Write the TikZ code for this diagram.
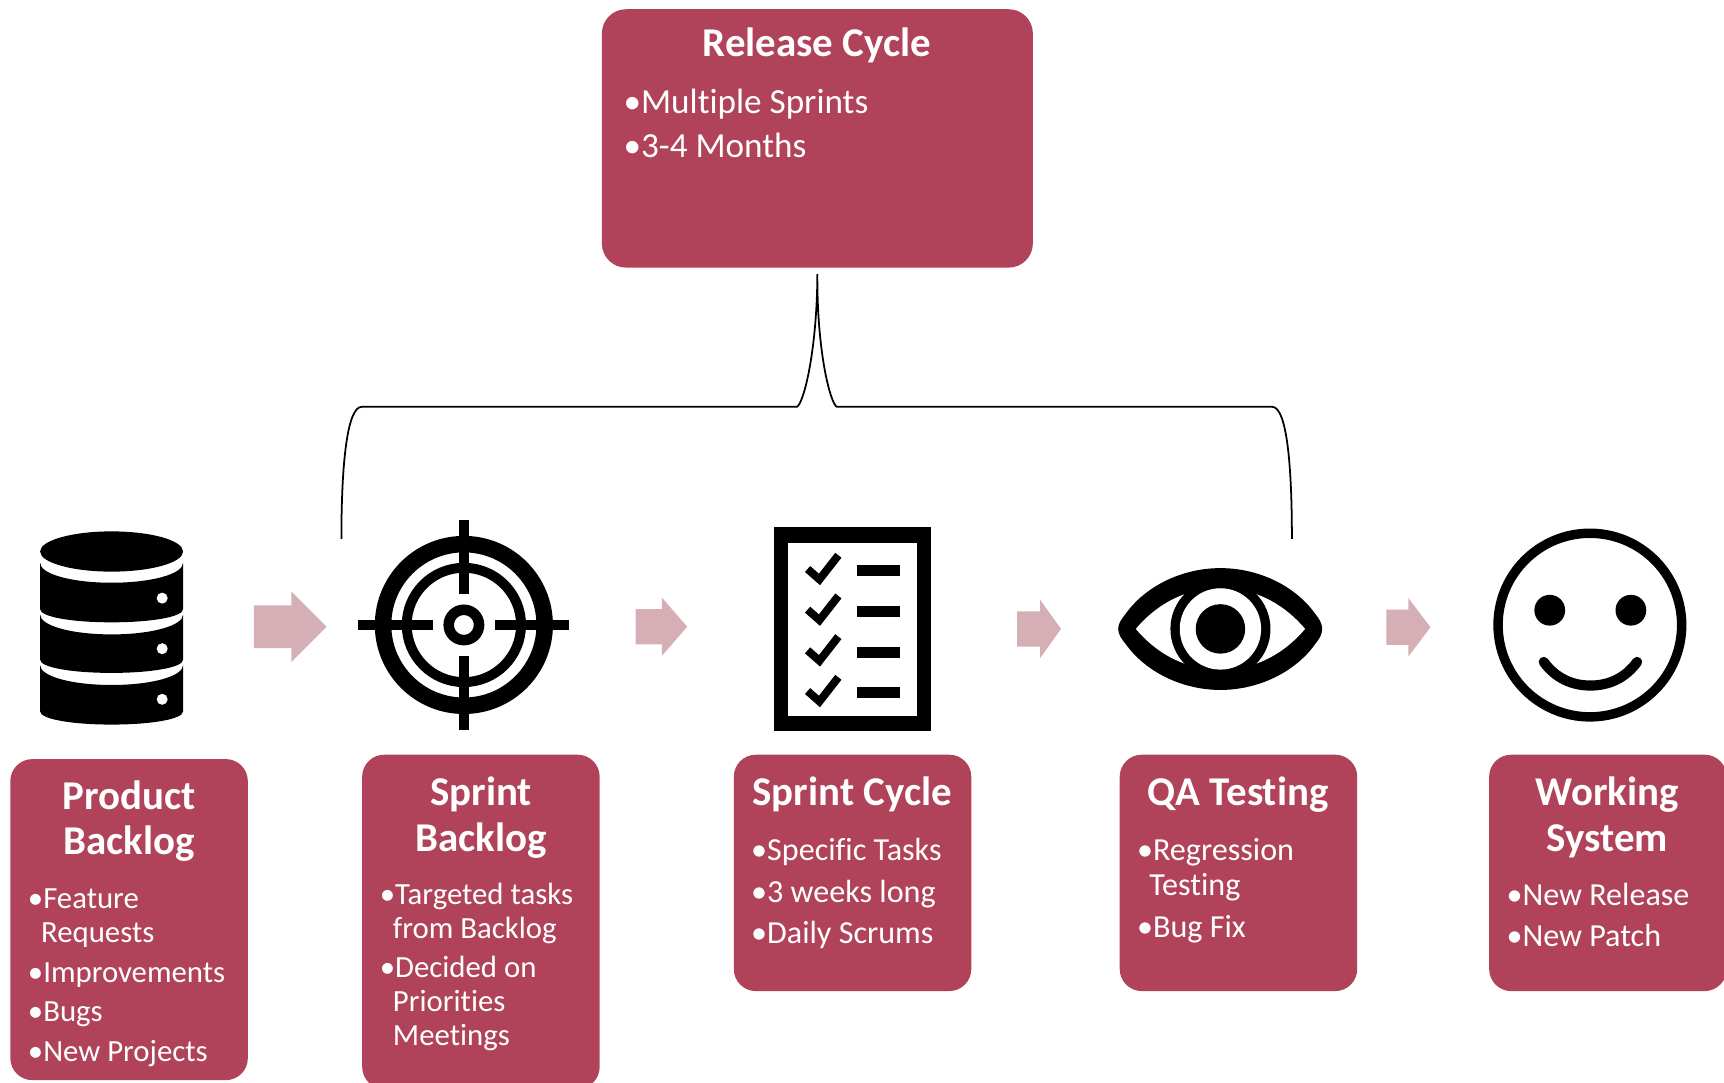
\documentclass[tikz,border=0pt]{standalone}
\usepackage{fontspec}
\setmainfont{Carlito}[Ligatures=NoCommon]
\definecolor{boxred}{RGB}{176,67,90}
\definecolor{arrowpink}{RGB}{213,175,181}
\tikzset{
  x=0.5pt,y=-0.5pt,
  redbox/.style={fill=boxred,draw=none,rounded corners=10pt,inner sep=0pt,anchor=north west},
  headtext/.style={text=white,font=\fontsize{18.6}{22}\selectfont\bfseries,inner sep=0pt,anchor=base},
  bodytext/.style={text=white,font=\fontsize{14}{17}\selectfont,inner sep=0pt,anchor=base west},
  widebody/.style={text=white,font=\fontsize{14.6}{17}\selectfont,inner sep=0pt,anchor=base west},
  bigbody/.style={text=white,font=\fontsize{16}{19}\selectfont,inner sep=0pt,anchor=base west},
  flowarrow/.style={fill=arrowpink,draw=none},
  bracket/.style={draw=black,line width=0.8pt,line join=round},
  icon/.style={fill=black,draw=none},
}
\newcommand{\flowarrow}[6]{% x0 xneck xtip ycentre halfshaft halfhead
  \path[flowarrow] (#1,#4-#5) -- (#2,#4-#5) -- (#2,#4-#6) -- (#3,#4) -- (#2,#4+#6) -- (#2,#4+#5) -- (#1,#4+#5) -- cycle;}
\newcommand{\dblayer}[2]{% side top, side bottom
  \path[icon,rounded corners=0pt] (36.5,#1) .. controls (36.5,#1+10) and (65,#1+18) .. (101.5,#1+18)
    .. controls (138,#1+18) and (166.5,#1+10) .. (166.5,#1) -- (166.5,#2)
    .. controls (166.5,#2+7) and (138,#2+12) .. (101.5,#2+12)
    .. controls (65,#2+12) and (36.5,#2+7) .. (36.5,#2) -- cycle;}
\newcommand{\checkrow}[1]{%
  \draw[line width=3.6pt,line cap=butt,line join=miter] (734.5,#1+517.5) -- (745.3,#1+527) -- (762.5,#1+505);
  \path[icon] (779.3,#1+514.2) rectangle (819,#1+524);}
\begin{document}
\begin{tikzpicture}
\useasboundingbox (0,0) rectangle (1568,985);
\clip (0,0) rectangle (1568,985);

% Boxes
\node[redbox,minimum width=196pt,minimum height=117.5pt,rounded corners=11pt] (release) at (547,8) {};
\node[redbox,minimum width=108pt,minimum height=146pt] (product) at (9,690) {};
\node[redbox,minimum width=108pt,minimum height=152pt] (sprintb) at (329,686) {};
\node[redbox,minimum width=108pt,minimum height=107.5pt] (cycle) at (667,686) {};
\node[redbox,minimum width=108pt,minimum height=107.5pt] (qa) at (1018,686) {};
\node[redbox,minimum width=108pt,minimum height=107.5pt] (working) at (1354,686) {};

% Release text
\node[headtext] (rt) at (743,51.5) {Release Cycle};
\node[bigbody] (r1) at (566.8,103.5) {•Multiple Sprints};
\node[bigbody] (r2) at (566.8,143.5) {•3-4 Months};

% Product backlog text
\node[headtext] (pt1) at (117.5,736.5) {Product};
\node[headtext] (pt2) at (117.5,777.5) {Backlog};
\node[bodytext] (p1) at (25,826) {•Feature};
\node[bodytext] (p1b) at (37,857) {Requests};
\node[bodytext] (p2) at (25,893.5) {•Improvements};
\node[bodytext] (p3) at (25,929) {•Bugs};
\node[bodytext] (p4) at (25,965) {•New Projects};

% Sprint backlog text
\node[headtext] (st1) at (437.5,733) {Sprint};
\node[headtext] (st2) at (437.5,774) {Backlog};
\node[bodytext] (s1) at (345,823) {•Targeted tasks};
\node[bodytext] (s1b) at (357,853.5) {from Backlog};
\node[bodytext] (s2) at (345,889) {•Decided on};
\node[bodytext] (s2b) at (357,920) {Priorities};
\node[bodytext] (s2c) at (357,951) {Meetings};

% Sprint cycle text
\node[headtext] (ct) at (775,733) {Sprint Cycle};
\node[widebody] (c1) at (682.8,782.5) {•Specific Tasks};
\node[widebody] (c2) at (682.8,820.5) {•3 weeks long};
\node[widebody] (c3) at (682.8,858.5) {•Daily Scrums};

% QA text
\node[headtext] (qt) at (1126,733) {QA Testing};
\node[widebody] (q1) at (1033.8,782.5) {•Regression};
\node[widebody] (q1b) at (1045,814.5) {Testing};
\node[widebody] (q2) at (1033.8,852.5) {•Bug Fix};

% Working text
\node[headtext] (wt1) at (1462,733) {Working};
\node[headtext] (wt2) at (1462,774) {System};
\node[widebody] (w1) at (1369.8,823.5) {•New Release};
\node[widebody] (w2) at (1369.8,860.5) {•New Patch};

% Block arrows
\flowarrow{231}{265}{297}{570}{19.5}{32}
\flowarrow{578}{602}{625}{570}{16}{26.5}
\flowarrow{925}{946}{965}{572}{16}{26.5}
\flowarrow{1261}{1281}{1301}{570.5}{16}{26.5}

% Bracket
\coordinate (bracetop) at ([yshift=-3pt]release.south);
\coordinate (braceleft) at (310.5,490);
\coordinate (braceright) at (1175,490);
\draw[bracket] (braceleft) .. controls (310.5,420) and (316,370) .. (329,370) -- (725,370)
  .. controls (731,366) and (743,320) .. (bracetop)
  .. controls (743,320) and (755,366) .. (761,370) -- (1157,370)
  .. controls (1170,370) and (1175,420) .. (braceright);

% Database icon
\path[icon] (101.5,501.6) circle[x radius=65,y radius=18.3];
\dblayer{512}{554}
\dblayer{559}{600}
\dblayer{605}{647}
\foreach \yy in {544,590,636} \path[fill=white] (147.5,\yy) circle[radius=5];

% Target icon
\begin{scope}[shift={(421.9,568.4)}]
  \draw[line width=7.5pt] (0,0) circle[radius=73.5];
  \draw[line width=4.5pt] (0,0) circle[radius=52];
  \draw[line width=4.8pt] (0,0) circle[radius=13.8];
  \path[icon] (-96,-4.8) rectangle (-28,4.8);
  \path[icon] (28,-4.8) rectangle (95.5,4.8);
  \path[icon] (-4.8,-95.5) rectangle (4.8,-28);
  \path[icon] (-4.8,28) rectangle (4.8,95.5);
\end{scope}

% Checklist icon
\path[icon] (703.7,479.6) rectangle (847,665);
\path[fill=white] (716.9,493.6) rectangle (833.8,650.8);
\checkrow{0}
\checkrow{37}
\checkrow{74}
\checkrow{111}

% Eye icon
\path[icon] (1017,572) .. controls (1017,567) and (1020,563) .. (1024,558)
  .. controls (1042,533) and (1075,516.7) .. (1110,516.7)
  .. controls (1145,516.7) and (1178,533) .. (1196,558)
  .. controls (1200,563) and (1202.5,567) .. (1202.5,572)
  .. controls (1202.5,577) and (1200,581) .. (1196,586)
  .. controls (1178,611) and (1145,627.5) .. (1110,627.5)
  .. controls (1075,627.5) and (1042,611) .. (1024,586)
  .. controls (1020,581) and (1017,577) .. (1017,572) -- cycle;
\path[fill=white] (1033,572) .. controls (1050,552) and (1075,535) .. (1110,535)
  .. controls (1145,535) and (1170,552) .. (1187,572)
  .. controls (1170,592) and (1145,609) .. (1110,609)
  .. controls (1075,609) and (1050,592) .. (1033,572) -- cycle;
\path[icon] (1110,572) circle[radius=45.5];
\path[fill=white] (1110,572) circle[radius=37];
\path[icon] (1110,572) circle[radius=22.5];

% Smiley icon
\draw[line width=4.3pt] (1446,568.5) circle[radius=83.5];
\path[icon] (1409.5,555) circle[radius=14];
\path[icon] (1483.3,555) circle[radius=14];
\draw[line width=4.6pt,line cap=round] (1404,602) .. controls (1415,617) and (1430,623.5) .. (1446.5,623.5)
  .. controls (1463,623.5) and (1478,617) .. (1489,602);
\end{tikzpicture}
\end{document}
